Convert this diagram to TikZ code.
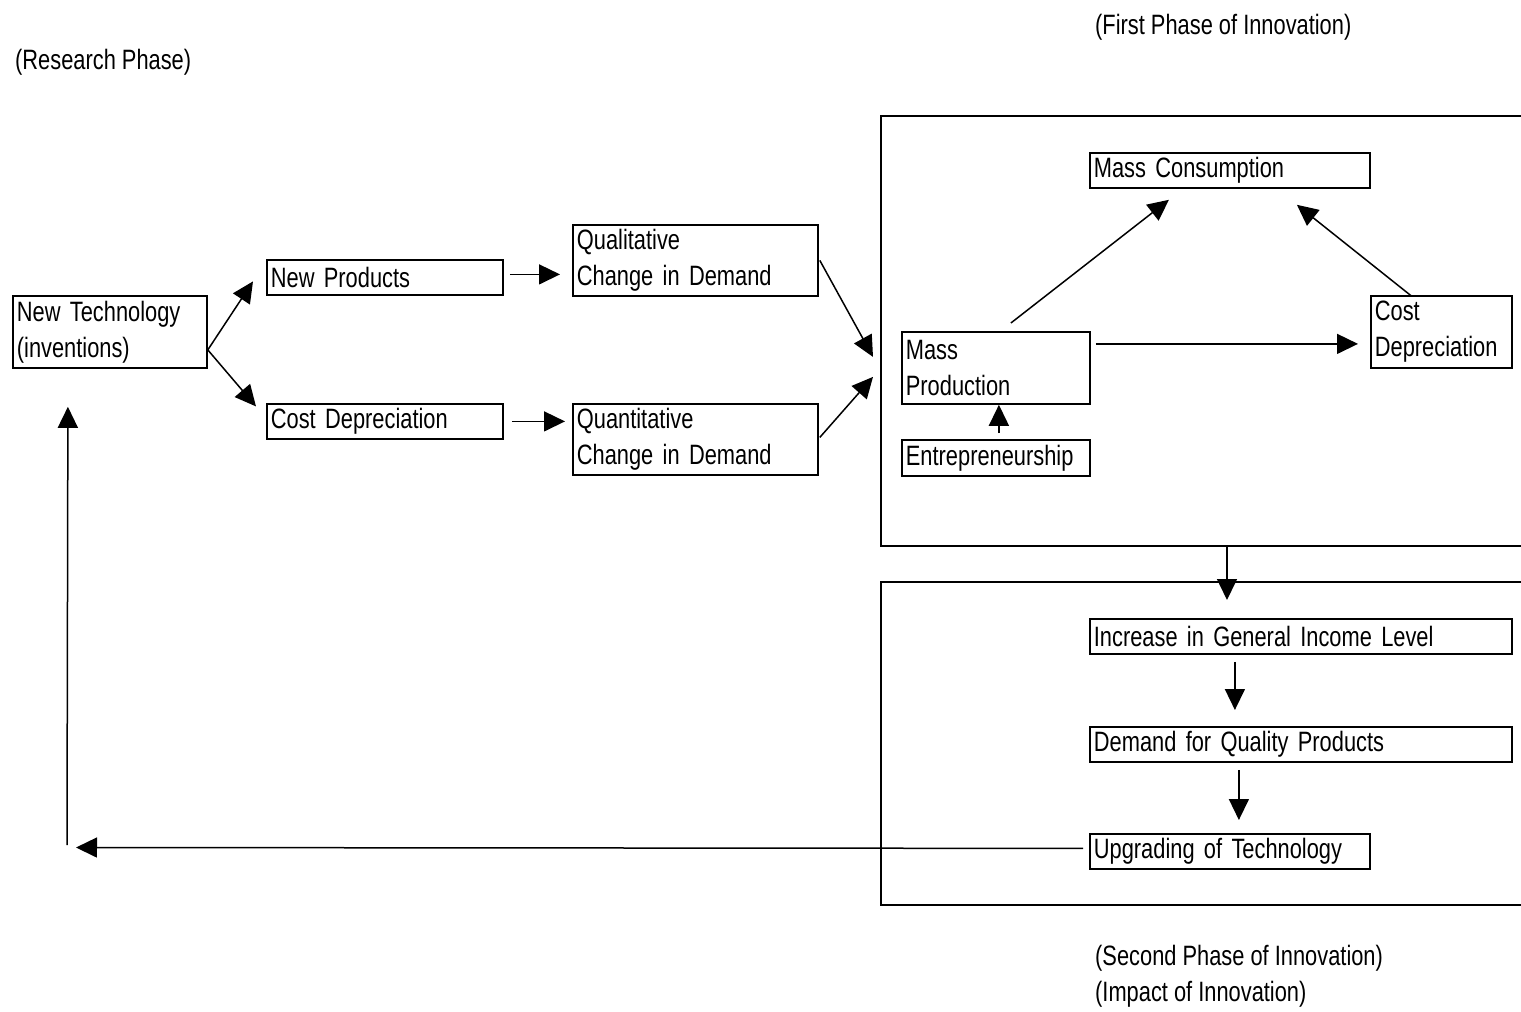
\documentclass[tikz,border=0pt]{standalone}
\usepackage{fontspec}
\setmainfont[FakeStretch=0.78]{Liberation Sans}
\usetikzlibrary{arrows.meta,calc}
\tikzset{
  box/.style={draw, line width=1.8pt, anchor=north west, inner xsep=4pt, inner ysep=0pt,
    align=left, font=\fontsize{28}{36}\selectfont},
  lbl/.style={anchor=west, inner sep=0pt, font=\fontsize{28}{36}\selectfont},
  arr/.style={line width=1.5pt, -{Triangle[length=21pt,width=20pt]}},
  frame/.style={line width=1.8pt}
}
\newcommand{\bx}[6]{\node[box, minimum width=#4pt, minimum height=#5pt, text width=#4pt-8pt] (#1) at (#2,#3) {#6};}
\begin{document}
\begin{tikzpicture}[x=1pt,y=-1pt]
\useasboundingbox (0,0) rectangle (1521,1012);
% frames
\draw[frame] (1521,116) -- (881,116) -- (881,546) -- (1521,546);
\draw[frame] (1521,582) -- (881,582) -- (881,905) -- (1521,905);
% labels
\node[lbl] (rp) at (15,62) {(Research Phase)};
\node[lbl] (fp) at (1095,27) {(First Phase of Innovation)};
\node[lbl] (sp) at (1095,958) {(Second Phase of Innovation)};
\node[lbl] (ip) at (1095,994) {(Impact of Innovation)};
% boxes
\bx{nt}{12}{295}{194}{72}{New Technology\\(inventions)}
\bx{np}{266}{259}{236}{35}{New Products}
\bx{cda}{266}{403}{236}{35}{Cost Depreciation}
\bx{ql}{572}{224}{245}{71}{Qualitative\\Change in Demand}
\bx{qn}{572}{403}{245}{71}{Quantitative\\Change in Demand}
\bx{mc}{1089}{152}{280}{35}{Mass Consumption}
\bx{mp}{901}{331}{188}{72}{Mass\\Production}
\bx{en}{901}{439}{188}{36}{Entrepreneurship}
\bx{cdb}{1370}{295}{141}{72}{Cost\\Depreciation}
\bx{inc}{1089}{618}{422}{35}{Increase in General Income Level}
\bx{dq}{1089}{726}{422}{35}{Demand for Quality Products}
\bx{up}{1089}{833}{280}{35}{Upgrading of Technology}
% coordinates
\coordinate (ntout) at ($(nt.east)+(0,18)$);
\coordinate (f1) at (1227,546);
\coordinate (lp) at (76,847.5);
\coordinate (corner) at (67,845);
% arrows
\draw[arr] (ntout) -- ($(np.west)+(-13,4)$);
\draw[arr] (ntout) -- ($(cda.west)+(-10,-15)$);
\draw[arr] ($(np.east)+(6,-3)$) -- ($(ql.west)+(-12,14)$);
\draw[arr] ($(cda.east)+(8,0)$) -- ($(qn.west)+(-7,-18)$);
\draw[arr] ($(ql.east)+(1,0)$) -- ($(mp.west)+(-28,-11)$);
\draw[arr] ($(qn.east)+(1,-2)$) -- ($(mp.west)+(-28,9)$);
\draw[arr] ($(mp.north)+(15,-8)$) -- ($(mc.south)+(-61,11)$);
\draw[arr] ($(cdb.north)+(-30,1)$) -- ($(mc.south)+(67,16)$);
\draw[arr] ($(mp.east)+(5,-24)$) -- ($(cdb.west)+(-12,12)$);
\draw[arr] ($(en.north)+(3,-6)$) -- ($(mp.south)+(3,0)$);
\draw[arr] (f1) -- ($(inc.north west)+(138,-18)$);
\draw[arr] ($(inc.south)+(-66,7)$) -- ($(dq.north)+(-66,-16)$);
\draw[arr] ($(dq.south)+(-62,7)$) -- ($(up.north)+(9,-13)$);
\draw[arr] ($(up.west)+(-6,-3)$) -- (lp);
\draw[arr] (corner) -- ($(nt.south)+(-42,38)$);
\end{tikzpicture}
\end{document}
